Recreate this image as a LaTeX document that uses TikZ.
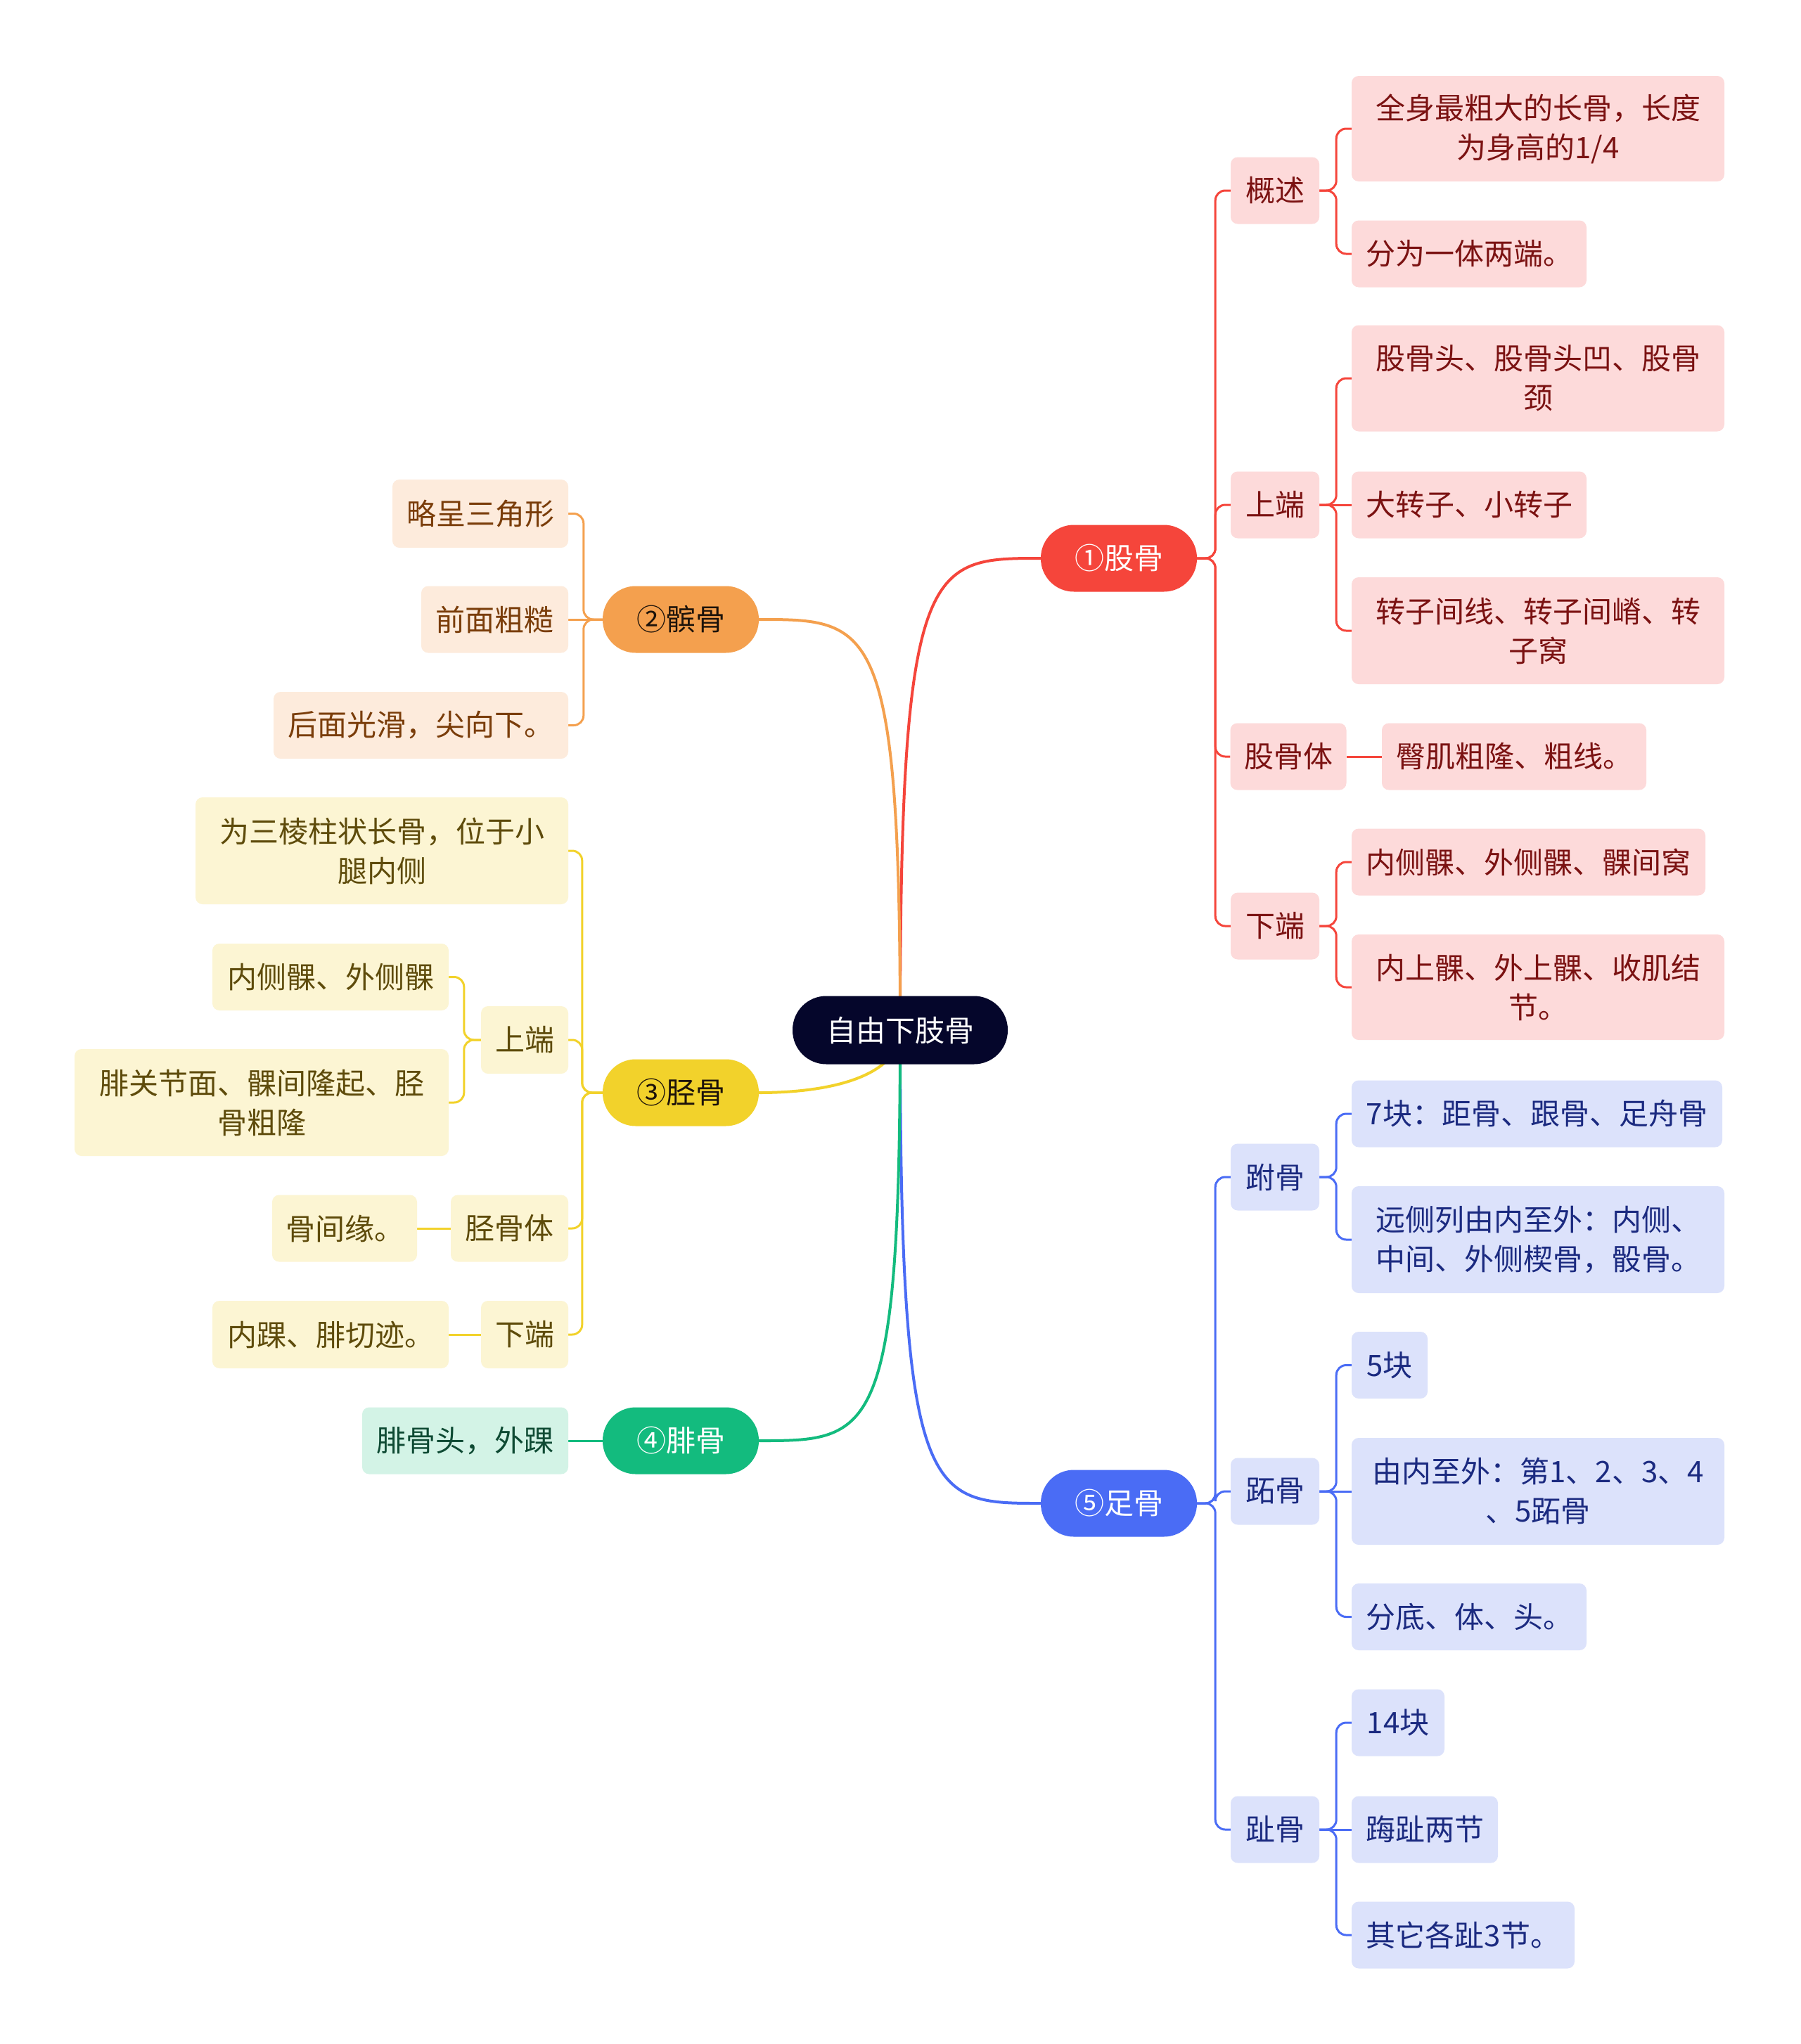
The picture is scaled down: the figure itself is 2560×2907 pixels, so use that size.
\documentclass[tikz,border=0pt]{standalone}
\usepackage{fontspec}
\setmainfont{Noto Sans CJK SC}
\usetikzlibrary{backgrounds,calc}
\pgfdeclarelayer{bgzero}
\pgfsetlayers{bgzero,background,main}
\definecolor{rootc}{HTML}{05062B}
\definecolor{colR}{HTML}{F5453B}
\definecolor{lightR}{HTML}{FDDADA}
\definecolor{txtR}{HTML}{7B1212}
\definecolor{colO}{HTML}{F4A04E}
\definecolor{lightO}{HTML}{FDEBDC}
\definecolor{txtO}{HTML}{7A3D0A}
\definecolor{colY}{HTML}{F2D22B}
\definecolor{lightY}{HTML}{FCF5D3}
\definecolor{txtY}{HTML}{5E4B0B}
\definecolor{colG}{HTML}{13BB7E}
\definecolor{lightG}{HTML}{D3F3E6}
\definecolor{txtG}{HTML}{0E4A33}
\definecolor{colB}{HTML}{4A6CF5}
\definecolor{lightB}{HTML}{DCE2FB}
\definecolor{txtB}{HTML}{1B2A80}
\begin{document}
\begin{tikzpicture}[x=1pt,y=-1pt,
  font=\fontsize{42pt}{56pt}\selectfont,
  anybox/.style={rounded corners=10pt, inner sep=0pt, align=center, minimum height=95pt},
  boxR/.style={anybox, fill=lightR, text=txtR},
  boxO/.style={anybox, fill=lightO, text=txtO},
  boxY/.style={anybox, fill=lightY, text=txtY},
  boxG/.style={anybox, fill=lightG, text=txtG},
  boxB/.style={anybox, fill=lightB, text=txtB},
  pill/.style={rounded corners=47pt, inner sep=0pt, align=center, minimum height=95pt, minimum width=222pt},
  lkone/.style={line width=4pt},
  lktwo/.style={line width=3pt, rounded corners=14pt},
]
\begin{pgfonlayer}{bgzero}
\fill[white] (0,0) rectangle (2560,2907);
\end{pgfonlayer}
\useasboundingbox (0,0) rectangle (2560,2907);

% root
\node[rounded corners=48pt, inner sep=0pt, minimum width=306pt, minimum height=97pt, fill=rootc, text=white] (root) at (1280,1465) {自由下肢骨};

% level 1
\node[pill, fill=colR, text=white] (gu) at (1591,794) {①股骨};
\node[pill, fill=colO, text=black!85!brown] (bin) at (968,881) {②髌骨};
\node[pill, fill=colY, text=black!85!brown] (jing) at (968,1554) {③胫骨};
\node[pill, fill=colG, text=white] (fei) at (968,2049) {④腓骨};
\node[pill, fill=colB, text=white] (zu) at (1591,2138) {⑤足骨};

% femur
\node[boxR, minimum width=126pt] (gaishu) at (1813,271) {概述};
\node[boxR, minimum width=126pt] (gshang) at (1813,718) {上端};
\node[boxR, minimum width=165pt] (gti) at (1832,1076) {股骨体};
\node[boxR, minimum width=126pt] (gxia) at (1813,1317) {下端};
\node[boxR, minimum width=530pt, minimum height=150pt] (a1) at (2187,183) {全身最粗大的长骨，长度\\为身高的1/4};
\node[boxR, minimum width=334pt] (a2) at (2089,361) {分为一体两端。};
\node[boxR, minimum width=530pt, minimum height=151pt] (b1) at (2187,538) {股骨头、股骨头凹、股骨\\颈};
\node[boxR, minimum width=334pt] (b2) at (2089,718) {大转子、小转子};
\node[boxR, minimum width=530pt, minimum height=152pt] (b3) at (2187,897) {转子间线、转子间嵴、转\\子窝};
\node[boxR, minimum width=376pt] (c1) at (2153,1076) {臀肌粗隆、粗线。};
\node[boxR, minimum width=503pt] (d1) at (2173.5,1226) {内侧髁、外侧髁、髁间窝};
\node[boxR, minimum width=530pt, minimum height=150pt] (d2) at (2187,1404) {内上髁、外上髁、收肌结\\节。};

% foot
\node[boxB, minimum width=126pt] (fu) at (1813,1674) {跗骨};
\node[boxB, minimum width=126pt] (zhi) at (1813,2121) {跖骨};
\node[boxB, minimum width=126pt] (zhig) at (1813,2602) {趾骨};
\node[boxB, minimum width=527pt] (e1) at (2185.5,1584) {7块：距骨、跟骨、足舟骨};
\node[boxB, minimum width=530pt, minimum height=152pt] (e2) at (2187,1763) {远侧列由内至外：内侧、\\中间、外侧楔骨，骰骨。};
\node[boxB, minimum width=108pt] (f1) at (1976,1941.5) {5块};
\node[boxB, minimum width=530pt, minimum height=152pt] (f2) at (2187,2121) {由内至外：第1、2、3、4\\、5跖骨};
\node[boxB, minimum width=334pt] (f3) at (2089,2299.5) {分底、体、头。};
\node[boxB, minimum width=132pt] (g1) at (1988,2450) {14块};
\node[boxB, minimum width=208pt] (g2) at (2026,2602) {踇趾两节};
\node[boxB, minimum width=317pt] (g3) at (2080.5,2752) {其它各趾3节。};

% patella
\node[boxO, minimum width=250pt, minimum height=97pt] (h1) at (683,730.5) {略呈三角形};
\node[boxO, minimum width=209pt] (h2) at (703.5,881) {前面粗糙};
\node[boxO, minimum width=419pt] (h3) at (598.5,1031.5) {后面光滑，尖向下。};

% tibia
\node[boxY, minimum width=530pt, minimum height=152pt] (i1) at (543,1210) {为三棱柱状长骨，位于小\\腿内侧};
\node[boxY, minimum width=124pt, minimum height=96pt] (i2) at (746,1479) {上端};
\node[boxY, minimum width=167pt] (i3) at (724.5,1747) {胫骨体};
\node[boxY, minimum width=124pt, minimum height=96pt] (i4) at (746,1898) {下端};
\node[boxY, minimum width=336pt] (j1) at (470,1389.5) {内侧髁、外侧髁};
\node[boxY, minimum width=532pt, minimum height=152pt] (j2) at (372,1568) {腓关节面、髁间隆起、胫\\骨粗隆};
\node[boxY, minimum width=206pt] (k1) at (490,1747) {骨间缘。};
\node[boxY, minimum width=336pt, minimum height=96pt] (l1) at (470,1898) {内踝、腓切迹。};

% fibula
\node[boxG, minimum width=293pt] (m1) at (661.5,2049) {腓骨头，外踝};

\begin{scope}[on background layer]
% level-1 curves
\draw[lkone, colR] (root.center) .. controls (root.center |- gu.west) and ($(root.center |- gu.west)!0.2!(gu.west)$) .. (gu.west);
\draw[lkone, colB] (root.center) .. controls (root.center |- zu.west) and ($(root.center |- zu.west)!0.2!(zu.west)$) .. (zu.west);
\draw[lkone, colO] (root.center) .. controls (root.center |- bin.east) and ($(root.center |- bin.east)!0.2!(bin.east)$) .. (bin.east);
\draw[lkone, colY] (root.center) .. controls ($(root.center)!0.7!(root.center |- jing.east)$) and ($(root.center |- jing.east)!0.45!(jing.east)$) .. (jing.east);
\draw[lkone, colG] (root.center) .. controls (root.center |- fei.east) and ($(root.center |- fei.east)!0.2!(fei.east)$) .. (fei.east);

% femur
\foreach \c in {gaishu,gshang,gti,gxia}
  \draw[lktwo, colR] (gu.east) -- ++(26,0) |- (\c.west);
\foreach \c in {a1,a2}
  \draw[lktwo, colR] (gaishu.east) -- ++(24,0) |- (\c.west);
\foreach \c in {b1,b3}
  \draw[lktwo, colR] (gshang.east) -- ++(24,0) |- (\c.west);
\draw[lktwo, colR] (gshang.east) -- (b2.west);
\draw[lktwo, colR] (gti.east) -- (c1.west);
\foreach \c in {d1,d2}
  \draw[lktwo, colR] (gxia.east) -- ++(24,0) |- (\c.west);

% foot
\foreach \c in {fu,zhi,zhig}
  \draw[lktwo, colB] (zu.east) -- ++(26,0) |- (\c.west);
\foreach \c in {e1,e2}
  \draw[lktwo, colB] (fu.east) -- ++(24,0) |- (\c.west);
\foreach \c in {f1,f3}
  \draw[lktwo, colB] (zhi.east) -- ++(24,0) |- (\c.west);
\draw[lktwo, colB] (zhi.east) -- (f2.west);
\foreach \c in {g1,g3}
  \draw[lktwo, colB] (zhig.east) -- ++(24,0) |- (\c.west);
\draw[lktwo, colB] (zhig.east) -- (g2.west);

% patella
\foreach \c in {h1,h3}
  \draw[lktwo, colO] (bin.west) -- ++(-27,0) |- (\c.east);
\draw[lktwo, colO] (bin.west) -- (h2.east);

% tibia
\foreach \c in {i1,i2,i3,i4}
  \draw[lktwo, colY] (jing.west) -- ++(-29,0) |- (\c.east);
\foreach \c in {j1,j2}
  \draw[lktwo, colY] (i2.west) -- ++(-24,0) |- (\c.east);
\draw[lktwo, colY] (i3.west) -- (k1.east);
\draw[lktwo, colY] (i4.west) -- (l1.east);

% fibula
\draw[lktwo, colG] (fei.west) -- (m1.east);
\end{scope}
\end{tikzpicture}
\end{document}
